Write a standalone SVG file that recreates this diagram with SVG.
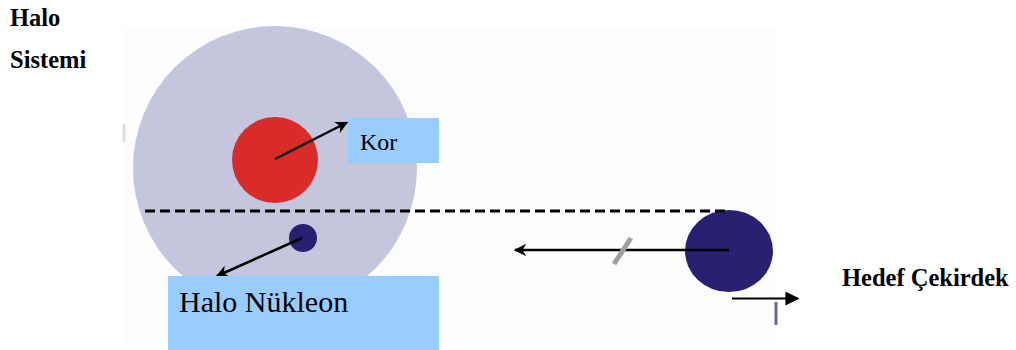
<svg xmlns="http://www.w3.org/2000/svg" width="1016" height="350" viewBox="0 0 1016 350">
<defs>
<style>
.lbl{font-family:"Liberation Serif","Times New Roman",serif;fill:#000}
.b{font-weight:bold;font-size:24.5px}
.box{fill:#99ccff}
.arr{stroke:#000;stroke-width:2.5;fill:none}
</style>
<marker id="ah" viewBox="0 0 10 10" refX="9" refY="5" markerWidth="5" markerHeight="5" orient="auto" markerUnits="strokeWidth">
<path d="M0,0 L10,5 L0,10 L3,5 Z" fill="#000"/>
</marker>
<marker id="ah2" viewBox="0 0 10 10" refX="9" refY="5" markerWidth="7" markerHeight="7" orient="auto" markerUnits="strokeWidth">
<path d="M0,0 L10,5 L0,10 Z" fill="#000"/>
</marker>
</defs>
<rect x="0" y="0" width="1016" height="350" fill="#fff"/>
<rect x="123" y="27" width="654" height="318" fill="#fdfdfd"/>
<rect x="122.5" y="124" width="3" height="18" fill="#dcdce6"/>
<text class="lbl b" x="10" y="26">Halo</text>
<text class="lbl b" x="10" y="68">Sistemi</text>
<g id="halo">
<circle cx="275" cy="168" r="142" fill="#c3c6dd"/>
</g>
<g id="kor-core">
<circle cx="275" cy="160" r="43" fill="#d92b27"/>
</g>
<g id="halo-nucleon-dot">
<circle cx="303" cy="238" r="14" fill="#2a2071"/>
</g>
<g id="kor">
<rect class="box" x="348" y="118" width="91" height="45"/>
<text class="lbl" x="360" y="150" font-size="24">Kor</text>
</g>
<g id="hedef">
<ellipse cx="729" cy="251" rx="44" ry="41" fill="#2a2071"/>
</g>
<g id="connectors">
<line x1="145" y1="211" x2="730" y2="211" stroke="#000" stroke-width="3" stroke-dasharray="10,5"/>
<line class="arr" x1="275" y1="159" x2="347" y2="122.5" marker-end="url(#ah)"/>
<line class="arr" x1="302" y1="238" x2="217" y2="276" marker-end="url(#ah)"/>
<line x1="729" y1="250" x2="515" y2="250" stroke="#000" stroke-width="2.5" marker-end="url(#ah)"/>
<line x1="631" y1="238" x2="614" y2="264" stroke="#a0a0a0" stroke-width="5"/>
<line x1="732" y1="298.5" x2="798" y2="298.5" stroke="#000" stroke-width="2" marker-end="url(#ah2)"/>
<line x1="776" y1="302" x2="776" y2="325" stroke="#6b6597" stroke-width="3"/>
</g>
<g id="halo-nukleon">
<rect class="box" x="168" y="276" width="271" height="74"/>
<text class="lbl" x="179" y="312" font-size="30">Halo Nükleon</text>
</g>
<text class="lbl b" x="842" y="286">Hedef Çekirdek</text>
</svg>
